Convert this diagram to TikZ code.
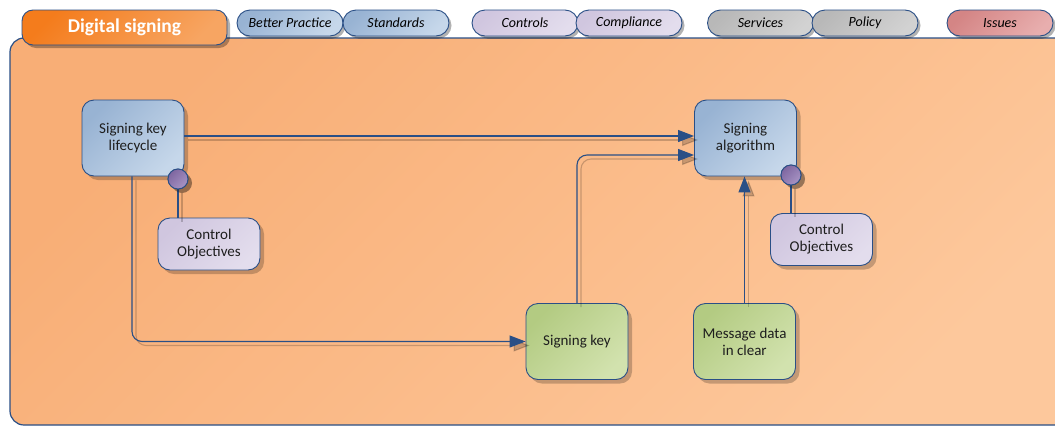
\documentclass[tikz,border=0pt]{standalone}
\usepackage{fontspec}
\setmainfont{Carlito}
\usetikzlibrary{arrows.meta,shadows}

\definecolor{edge}{HTML}{2A4F86}
\definecolor{txt}{HTML}{1E1E1E}
\definecolor{bgA}{HTML}{F8AE76}
\definecolor{bgB}{HTML}{FDC89C}
\definecolor{tabA}{HTML}{F47C1C}
\definecolor{tabB}{HTML}{F7A562}
\definecolor{bluA}{HTML}{98B3D3}
\definecolor{bluB}{HTML}{C6D7EA}
\definecolor{lavA}{HTML}{D0C6DF}
\definecolor{lavB}{HTML}{E3DDED}
\definecolor{grnA}{HTML}{B3CB82}
\definecolor{grnB}{HTML}{D2E2AE}
\definecolor{purA}{HTML}{7E66A0}
\definecolor{purB}{HTML}{A894C4}
\definecolor{gryA}{HTML}{B8B8B8}
\definecolor{gryB}{HTML}{D2D2D2}
\definecolor{redA}{HTML}{D48585}
\definecolor{redB}{HTML}{E8AEAE}

\tikzset{
  grad/.style 2 args={top color=#1, bottom color=#2, shading angle=45},
  softshadow/.style={drop shadow={shadow xshift=4pt, shadow yshift=-4pt, fill=black, opacity=0.22}},
  box/.style={draw=edge, line width=0.9pt, rounded corners=12pt, minimum width=102pt,
    minimum height=76pt, align=center, text=txt, font=\fontsize{15}{17}\selectfont, softshadow},
  objbox/.style={box, minimum height=52pt, grad={lavA}{lavB}},
  procbox/.style={box, grad={bluA}{bluB}},
  databox/.style={box, grad={grnA}{grnB}},
  pill/.style={draw=edge, line width=0.9pt, rounded corners=13pt, minimum width=106pt,
    minimum height=26pt, text=black, font=\fontsize{14}{16}\itshape\selectfont,
    drop shadow={shadow xshift=2.5pt, shadow yshift=-2.5pt, fill=black, opacity=0.3}},
  tabbox/.style={draw=edge, line width=0.9pt, rounded corners=11pt, minimum width=205pt,
    minimum height=35pt, text=white, font=\fontsize{19.5}{22}\bfseries\selectfont,
    grad={tabA}{tabB}, drop shadow={shadow xshift=3pt, shadow yshift=-3pt, fill=black, opacity=0.3}},
  knob/.style={circle, draw=edge, line width=0.9pt, minimum size=20pt, inner sep=0pt,
    grad={purA}{purB}, softshadow},
  link/.style={draw=edge, line width=1.1pt, rounded corners=10pt,
    preaction={draw=black, draw opacity=0.2, line width=1.1pt, transform canvas={shift={(4pt,-4pt)}}}},
  flow/.style={draw=edge, line width=1.1pt, rounded corners=10pt,
    -{Triangle[length=16pt,width=12pt]},
    preaction={draw=black, draw opacity=0.2, fill opacity=0.2, line width=1.1pt,
      -{Triangle[length=16pt,width=12pt]}, transform canvas={shift={(4pt,-4pt)}}}},
}

\begin{document}
\begin{tikzpicture}[x=1pt,y=-1pt]
\useasboundingbox[fill=white] (0,0) rectangle (1055,426);

% main panel
\path[draw=edge, line width=1.2pt, grad={bgA}{bgB}, rounded corners=14pt]
  (10,38) rectangle (1090,425);

% header tabs
\node[tabbox] (title) at (124.5,27.5) {Digital signing};
\node[pill, grad={bluA}{bluB}] (bp)   at (290,23)   {Better Practice};
\node[pill, grad={bluA}{bluB}] (std)  at (396,23)   {Standards};
\node[pill, grad={lavA}{lavB}] (ctl)  at (525,23)   {Controls};
\node[pill, grad={lavA}{lavB}] (cmp)  at (629,23)   {Compliance};
\node[pill, grad={gryA}{gryB}] (svc)  at (760.5,23) {Services};
\node[pill, grad={gryA}{gryB}] (pol)  at (865,23)   {Policy};
\node[pill, grad={redA}{redB}] (iss)  at (1000,23)  {Issues};

% diagram nodes
\node[procbox] (life) at (133,138)     {Signing key\\lifecycle};
\node[procbox] (alg)  at (745.5,138)   {Signing\\algorithm};
\node[databox] (key)  at (577,341.5)   {Signing key};
\node[databox] (msg)  at (744.5,341.5) {Message data\\in clear};
\node[objbox]  (co1)  at (209,244)     {Control\\Objectives};
\node[objbox]  (co2)  at (821.5,239.5) {Control\\Objectives};

% flows
\draw[flow] ([yshift=2pt]life.east) -- ([yshift=2pt]alg.west);
\draw[flow] ([xshift=-1pt]life.south) |- (key.west);
\draw[flow] (key.north) |- ([yshift=-17pt]alg.west);
\draw[flow] (msg.north) -- (msg.north |- alg.south);

% control objective attachments
\node[knob] (k1) at (178,179) {};
\node[knob] (k2) at (791,175) {};
\draw[link] (k1.south) -- (k1.south |- co1.north);
\draw[link] (k2.south) -- (k2.south |- co2.north);
\node[knob] at (k1) {};
\node[knob] at (k2) {};
\end{tikzpicture}
\end{document}
